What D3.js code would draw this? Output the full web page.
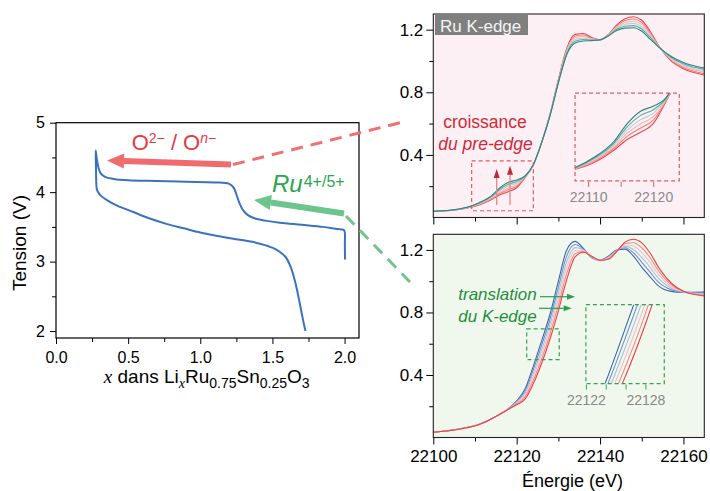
<!DOCTYPE html>
<html>
<head>
<meta charset="utf-8">
<script src="https://cdn.jsdelivr.net/npm/d3@7"></script>
<style>
  body { margin: 0; background: #fff; }
  svg { display: block; }
</style>
</head>
<body>
<div id="content"></div>
<script>
// ---------- galvanostatic curve (x in LixRu0.75Sn0.25O3, tension in V)
const chargeX    = [2.003, 2.002, 2.0, 1.99, 1.95, 1.85, 1.7, 1.55, 1.45, 1.38, 1.33, 1.3, 1.27, 1.25, 1.23, 1.2, 1.1, 0.9, 0.7, 0.5, 0.4, 0.34, 0.31, 0.295, 0.285, 0.278, 0.275];
const chargeV    = [3.03, 3.25, 3.44, 3.46, 3.47, 3.5, 3.53, 3.56, 3.59, 3.62, 3.67, 3.73, 3.85, 3.97, 4.07, 4.12, 4.14, 4.15, 4.16, 4.17, 4.19, 4.22, 4.27, 4.35, 4.45, 4.55, 4.6];
const dischargeX = [0.275, 0.277, 0.279, 0.283, 0.295, 0.31, 0.35, 0.42, 0.54, 0.65, 0.77, 0.885, 1.0, 1.12, 1.23, 1.35, 1.46, 1.53, 1.59, 1.625, 1.66, 1.694, 1.717, 1.729];
const dischargeV = [4.6, 4.37, 4.15, 4.04, 3.99, 3.95, 3.89, 3.81, 3.71, 3.62, 3.54, 3.48, 3.42, 3.37, 3.33, 3.29, 3.23, 3.17, 3.07, 2.93, 2.69, 2.35, 2.11, 2.0];

const liTicks      = [0, 0.5, 1.0, 1.5, 2.0];
const liMinorTicks = [0.25, 0.75, 1.25, 1.75];
const vTicks       = [2, 3, 4, 5];
const vMinorTicks  = [2.5, 3.5, 4.5];

// ---------- Ru K-edge XANES (shared energy grid, eV)
const energy = [22100, 22104, 22108, 22111, 22114, 22116, 22118, 22120, 22122, 22124, 22126, 22128, 22130, 22132, 22134, 22136, 22138, 22140, 22142, 22144, 22146, 22148, 22150, 22152, 22154, 22157, 22160, 22165];

// top panel: pre-edge growth (red -> teal)
const topS0 = [0.040, 0.045, 0.060, 0.080, 0.115, 0.145, 0.165, 0.190, 0.255, 0.335, 0.480, 0.660, 0.880, 1.080, 1.170, 1.175, 1.150, 1.135, 1.170, 1.230, 1.270, 1.282, 1.260, 1.190, 1.100, 1.000, 0.950, 0.910];
const topS1 = [0.040, 0.045, 0.061, 0.083, 0.120, 0.154, 0.177, 0.200, 0.257, 0.336, 0.480, 0.658, 0.876, 1.072, 1.159, 1.166, 1.146, 1.135, 1.168, 1.223, 1.258, 1.268, 1.246, 1.180, 1.098, 1.006, 0.958, 0.919];
const topS2 = [0.040, 0.045, 0.062, 0.086, 0.125, 0.163, 0.189, 0.210, 0.259, 0.337, 0.480, 0.656, 0.872, 1.064, 1.148, 1.156, 1.142, 1.135, 1.166, 1.216, 1.246, 1.254, 1.232, 1.170, 1.096, 1.012, 0.966, 0.928];
const topS3 = [0.040, 0.046, 0.063, 0.089, 0.130, 0.172, 0.201, 0.220, 0.261, 0.337, 0.480, 0.654, 0.868, 1.056, 1.137, 1.147, 1.138, 1.135, 1.164, 1.209, 1.234, 1.240, 1.218, 1.160, 1.094, 1.018, 0.974, 0.937];
const topS4 = [0.040, 0.046, 0.064, 0.092, 0.135, 0.181, 0.213, 0.230, 0.263, 0.338, 0.480, 0.652, 0.864, 1.048, 1.126, 1.137, 1.134, 1.135, 1.162, 1.202, 1.222, 1.226, 1.204, 1.150, 1.092, 1.024, 0.982, 0.946];
const topS5 = [0.040, 0.046, 0.065, 0.095, 0.140, 0.190, 0.225, 0.240, 0.265, 0.339, 0.480, 0.650, 0.860, 1.040, 1.115, 1.128, 1.130, 1.135, 1.160, 1.195, 1.210, 1.212, 1.190, 1.140, 1.090, 1.030, 0.990, 0.955];
const topColors = ["#ef4349", "#f17c80", "#f3b3b6", "#b7d2cd", "#5fa8a0", "#2a8680"];

// bottom panel: K-edge shift (blue -> red)
const botS0 = [0.034, 0.045, 0.064, 0.085, 0.120, 0.148, 0.185, 0.235, 0.310, 0.457, 0.620, 0.790, 1.000, 1.200, 1.255, 1.210, 1.150, 1.134, 1.160, 1.200, 1.205, 1.160, 1.090, 1.028, 0.970, 0.935, 0.929, 0.930];
const botS1 = [0.034, 0.045, 0.064, 0.085, 0.120, 0.148, 0.184, 0.230, 0.297, 0.435, 0.591, 0.758, 0.962, 1.162, 1.235, 1.205, 1.152, 1.134, 1.156, 1.198, 1.214, 1.182, 1.121, 1.058, 0.994, 0.946, 0.930, 0.925];
const botS2 = [0.034, 0.045, 0.063, 0.084, 0.120, 0.149, 0.183, 0.225, 0.284, 0.412, 0.562, 0.726, 0.924, 1.124, 1.215, 1.200, 1.154, 1.134, 1.152, 1.196, 1.223, 1.203, 1.152, 1.089, 1.018, 0.957, 0.931, 0.920];
const botS3 = [0.034, 0.045, 0.063, 0.084, 0.120, 0.149, 0.182, 0.220, 0.271, 0.390, 0.533, 0.694, 0.886, 1.086, 1.195, 1.195, 1.156, 1.134, 1.148, 1.194, 1.232, 1.225, 1.183, 1.119, 1.042, 0.968, 0.933, 0.915];
const botS4 = [0.034, 0.045, 0.062, 0.083, 0.120, 0.150, 0.181, 0.215, 0.258, 0.367, 0.504, 0.662, 0.848, 1.048, 1.175, 1.190, 1.158, 1.134, 1.144, 1.192, 1.241, 1.246, 1.214, 1.150, 1.066, 0.979, 0.934, 0.910];
const botS5 = [0.034, 0.045, 0.062, 0.083, 0.120, 0.150, 0.180, 0.210, 0.245, 0.345, 0.475, 0.630, 0.810, 1.010, 1.155, 1.185, 1.160, 1.134, 1.140, 1.190, 1.250, 1.268, 1.245, 1.180, 1.090, 0.990, 0.935, 0.905];
const botColors = ["#3a66ad", "#6f92c7", "#aabfe0", "#f3c0c3", "#f28a8e", "#ee3f45"];

const eTicks         = [22100, 22120, 22140, 22160];
const eMinorTicks    = [22110, 22130, 22150];
const muTicks        = [0.4, 0.8, 1.2];
const muMinorTicks   = [0.2, 0.6, 1.0];
const topInsetTicks  = [22110, 22115, 22120];
const topInsetLabels = [22110, 22120];
const botInsetTicks  = [22122, 22124, 22126, 22128];
const botInsetLabels = [22122, 22128];

const FONT = "'Liberation Sans', Arial, Helvetica, sans-serif";
const W = 710, H = 491;

const svg = d3.select("#content").append("svg")
    .attr("width", W).attr("height", H)
    .attr("font-family", FONT);

svg.append("rect").attr("width", W).attr("height", H).attr("fill", "#fff");

const defs = svg.append("defs");

function styleAxis(g, size){
    g.select(".domain").remove();
    g.attr("font-family", FONT).attr("font-size", size);
    g.selectAll("text").attr("fill", "#000");
    g.selectAll("line").attr("stroke", "#000");
}

function arrow(g, x1, y1, x2, y2, color, shaftW, headL, headW){
    // shaft from (x1,y1) to head base, head pointing at (x2,y2)
    const a = Math.atan2(y2 - y1, x2 - x1);
    const bx = x2 - headL * Math.cos(a), by = y2 - headL * Math.sin(a);
    g.append("line").attr("x1", x1).attr("y1", y1).attr("x2", bx).attr("y2", by)
        .attr("stroke", color).attr("stroke-width", shaftW);
    const px = Math.sin(a) * headW / 2, py = -Math.cos(a) * headW / 2;
    g.append("path")
        .attr("d", `M${x2},${y2}L${bx + px},${by + py}L${bx - px},${by - py}Z`)
        .attr("fill", color);
}

//////////////////// left: tension vs x
const xLi = d3.scaleLinear().domain([0, 2.1]).range([56, 359]);
const yV  = d3.scaleLinear().domain([1.9, 5]).range([338, 122.7]);
const left = svg.append("g");

left.append("g").attr("transform", "translate(0,338)")
    .call(d3.axisBottom(xLi).tickValues(liMinorTicks).tickSize(4).tickFormat(""))
    .call(g => styleAxis(g, 16));
left.append("g").attr("transform", "translate(0,338)")
    .call(d3.axisBottom(xLi).tickValues(liTicks).tickSize(6).tickPadding(8).tickFormat(d3.format(".1f")))
    .call(g => styleAxis(g, 16));
left.append("g").attr("transform", "translate(56,0)")
    .call(d3.axisLeft(yV).tickValues(vMinorTicks).tickSize(4).tickFormat(""))
    .call(g => styleAxis(g, 16));
left.append("g").attr("transform", "translate(56,0)")
    .call(d3.axisLeft(yV).tickValues(vTicks).tickSize(6).tickPadding(5).tickFormat(d3.format("d")))
    .call(g => styleAxis(g, 16));

left.append("rect")
    .attr("x", xLi(0)).attr("y", yV(5))
    .attr("width", xLi(2.1) - xLi(0)).attr("height", yV(1.9) - yV(5))
    .attr("fill", "none").attr("stroke", "#000").attr("stroke-width", 1.2);

const cycle = chargeX.map((x, i) => [x, chargeV[i]])
    .concat(dischargeX.slice(1).map((x, i) => [x, dischargeV[i + 1]]));

left.append("path")
    .attr("d", d3.line().x(d => xLi(d[0])).y(d => yV(d[1])).curve(d3.curveCatmullRom.alpha(0.5))(cycle))
    .attr("fill", "none").attr("stroke", "#3b72c0").attr("stroke-width", 2);

left.append("text")
    .attr("transform", "translate(25.5,243) rotate(-90)")
    .attr("text-anchor", "middle").attr("font-size", 19).text("Tension (V)");

const xt = left.append("text").attr("x", 206.7).attr("y", 383)
    .attr("text-anchor", "middle").attr("font-size", 19);
xt.append("tspan").attr("font-family", "'Liberation Serif', serif").attr("font-style", "italic").text("x");
xt.append("tspan").text(" dans Li");
xt.append("tspan").attr("dy", 5).attr("font-size", 14).attr("font-family", "'Liberation Serif', serif").attr("font-style", "italic").text("x");
xt.append("tspan").attr("dy", -5).text("Ru");
xt.append("tspan").attr("dy", 5).attr("font-size", 14).text("0.75");
xt.append("tspan").attr("dy", -5).text("Sn");
xt.append("tspan").attr("dy", 5).attr("font-size", 14).text("0.25");
xt.append("tspan").attr("dy", -5).text("O");
xt.append("tspan").attr("dy", 5).attr("font-size", 14).text("3");

// redox annotations
const ann = svg.append("g");
ann.append("line").attr("x1", 233).attr("y1", 164.5).attr("x2", 407).attr("y2", 121)
    .attr("stroke", "#f07074").attr("stroke-width", 3).attr("stroke-dasharray", "12 8");
ann.append("line").attr("x1", 346).attr("y1", 216).attr("x2", 410).attr("y2", 282)
    .attr("stroke", "#72c48e").attr("stroke-width", 3).attr("stroke-dasharray", "12 8");
arrow(ann, 231, 164.5, 107, 160.5, "#f06b6e", 6, 17, 15);
arrow(ann, 344, 213.5, 254, 200, "#6cc58c", 6, 17, 15);

const ox = ann.append("text").attr("x", 131.7).attr("y", 150).attr("fill", "#e8383e").attr("font-size", 22);
ox.append("tspan").text("O");
ox.append("tspan").attr("dy", -7).attr("font-size", 14).text("2\u2212");
ox.append("tspan").attr("dy", 7).text(" / O");
ox.append("tspan").attr("dy", -7).attr("font-size", 14).attr("font-style", "italic").text("n");
ox.append("tspan").attr("font-size", 14).text("\u2212");

const ru = ann.append("text").attr("x", 272).attr("y", 191.7).attr("fill", "#2aa64d").attr("font-size", 24);
ru.append("tspan").attr("font-style", "italic").text("Ru");
ru.append("tspan").attr("dx", 1).attr("dy", -5).attr("font-size", 16).text("4+/5+");

//////////////////// right: XANES panels
const xE = d3.scaleLinear().domain([22100, 22165]).range([433.3, 704.3]);

function drawPanel(cfg){
    const y = d3.scaleLinear().domain([0, 1.3]).range([cfg.bottom, cfg.top]);
    const g = svg.append("g");
    const [x0, x1] = xE.range();

    g.append("rect").attr("x", x0).attr("y", cfg.top)
        .attr("width", x1 - x0).attr("height", cfg.bottom - cfg.top)
        .attr("fill", cfg.bg);

    const clipId = cfg.id + "-clip";
    defs.append("clipPath").attr("id", clipId).append("rect")
        .attr("x", x0).attr("y", cfg.top).attr("width", x1 - x0).attr("height", cfg.bottom - cfg.top);

    const line = d3.line().x((d, i) => xE(energy[i])).y(d => y(d)).curve(d3.curveMonotoneX);
    g.append("g").attr("clip-path", `url(#${clipId})`)
        .selectAll("path").data(cfg.spectra).enter().append("path")
        .attr("d", line)
        .attr("fill", "none")
        .attr("stroke", (d, i) => cfg.colors[i])
        .attr("stroke-width", 1.1);

    // axes
    g.append("g").attr("transform", `translate(${x0},0)`)
        .call(d3.axisLeft(y).tickValues(muMinorTicks).tickSize(4).tickFormat(""))
        .call(a => styleAxis(a, 17));
    g.append("g").attr("transform", `translate(${x0},0)`)
        .call(d3.axisLeft(y).tickValues(muTicks).tickSize(7).tickPadding(3).tickFormat(d3.format(".1f")))
        .call(a => styleAxis(a, 17));
    g.append("g").attr("transform", `translate(0,${cfg.bottom})`)
        .call(d3.axisBottom(xE).tickValues(eMinorTicks).tickSize(4).tickFormat(""))
        .call(a => styleAxis(a, 17));
    g.append("g").attr("transform", `translate(0,${cfg.bottom})`)
        .call(d3.axisBottom(xE).tickValues(eTicks).tickSize(7).tickPadding(5)
            .tickFormat(cfg.xLabels ? d3.format("d") : ""))
        .call(a => styleAxis(a, 17));

    g.append("rect").attr("x", x0).attr("y", cfg.top)
        .attr("width", x1 - x0).attr("height", cfg.bottom - cfg.top)
        .attr("fill", "none").attr("stroke", "#222").attr("stroke-width", 1.1);

    // small dashed zoom box on the curves
    const z = cfg.zoomBox;
    g.append("rect")
        .attr("x", xE(z.e[0])).attr("y", y(z.v[1]))
        .attr("width", xE(z.e[1]) - xE(z.e[0])).attr("height", y(z.v[0]) - y(z.v[1]))
        .attr("fill", "none").attr("stroke", cfg.dash).attr("stroke-width", 1.2)
        .attr("stroke-dasharray", "4 3");

    // inset
    const ib = cfg.inset;
    const ix0 = xE(ib.box.e[0]), ix1 = xE(ib.box.e[1]);
    const iy0 = y(ib.box.v[1]), iy1 = y(ib.box.v[0]);
    const xi = d3.scaleLinear().domain(ib.eDomain).range([ix0, ix1]);
    const yi = d3.scaleLinear().domain(ib.vDomain).range([iy1, iy0]);
    const insetClip = cfg.id + "-inset";
    defs.append("clipPath").attr("id", insetClip).append("rect")
        .attr("x", ix0).attr("y", iy0).attr("width", ix1 - ix0).attr("height", iy1 - iy0);
    const iline = d3.line().x((d, i) => xi(energy[i])).y(d => yi(d)).curve(d3.curveMonotoneX);
    g.append("g").attr("clip-path", `url(#${insetClip})`)
        .selectAll("path").data(cfg.spectra).enter().append("path")
        .attr("d", iline)
        .attr("fill", "none")
        .attr("stroke", (d, i) => cfg.colors[i])
        .attr("stroke-width", 1.1);
    g.append("rect").attr("x", ix0).attr("y", iy0)
        .attr("width", ix1 - ix0).attr("height", iy1 - iy0)
        .attr("fill", "none").attr("stroke", cfg.dash).attr("stroke-width", 1.2)
        .attr("stroke-dasharray", "4 3");
    const it = g.append("g").attr("transform", `translate(0,${iy1 + 1})`)
        .call(d3.axisBottom(xi).tickValues(ib.ticks).tickSize(5).tickPadding(5)
            .tickFormat(d => ib.labels.includes(d) ? d3.format("d")(d) : ""));
    it.select(".domain").remove();
    it.attr("font-family", FONT).attr("font-size", 14);
    it.selectAll("line").attr("stroke", cfg.dash);
    it.selectAll("text").attr("fill", "#8a8a8a");

    return { g, y };
}

// top panel
const topPanel = drawPanel({
    id: "top", top: 14, bottom: 217.5, bg: "#fcf0f4", xLabels: false,
    spectra: [topS0, topS1, topS2, topS3, topS4, topS5], colors: topColors,
    dash: "#de5a66",
    zoomBox: { e: [22109.2, 22124], v: [0.043, 0.362] },
    inset: { box: { e: [22134, 22159], v: [0.234, 0.794] },
             eDomain: [22108, 22124], vDomain: [0.027, 0.277],
             ticks: topInsetTicks, labels: topInsetLabels }
});

topPanel.g.append("rect").attr("x", 435).attr("y", 15).attr("width", 93).attr("height", 20).attr("fill", "#7f7f7f");
topPanel.g.append("text").attr("x", 440).attr("y", 31.5).attr("fill", "#f4f4f4").attr("font-size", 17).text("Ru K-edge");

topPanel.g.append("text").attr("x", 485).attr("y", 128.3).attr("text-anchor", "middle")
    .attr("fill", "#cc2a3a").attr("font-size", 17.5).text("croissance");
topPanel.g.append("text").attr("x", 485.5).attr("y", 150).attr("text-anchor", "middle")
    .attr("fill", "#cc2a3a").attr("font-size", 17.5).attr("font-style", "italic").text("du pre-edge");

[[22115.2, 0.31], [22118.4, 0.33]].forEach(([e, v]) => {
    const xa = xE(e);
    topPanel.g.append("line").attr("x1", xa).attr("x2", xa)
        .attr("y1", topPanel.y(0.08)).attr("y2", topPanel.y(v) + 8)
        .attr("stroke", "#e4868c").attr("stroke-width", 1.3);
    topPanel.g.append("path")
        .attr("d", `M${xa},${topPanel.y(v)}L${xa - 3},${topPanel.y(v) + 9}L${xa + 3},${topPanel.y(v) + 9}Z`)
        .attr("fill", "#c0283a");
});

// bottom panel
const botPanel = drawPanel({
    id: "bot", top: 234.3, bottom: 437.5, bg: "#f0f7ec", xLabels: true,
    spectra: [botS0, botS1, botS2, botS3, botS4, botS5], colors: botColors,
    dash: "#3a9f55",
    zoomBox: { e: [22122.4, 22130.2], v: [0.498, 0.695] },
    inset: { box: { e: [22136.6, 22155.4], v: [0.345, 0.85] },
             eDomain: [22122, 22129.9], vDomain: [0.452, 0.688],
             ticks: botInsetTicks, labels: botInsetLabels }
});

botPanel.g.append("text").attr("x", 497.5).attr("y", 300).attr("text-anchor", "middle")
    .attr("fill", "#1f8f3f").attr("font-size", 17).attr("font-style", "italic").text("translation");
botPanel.g.append("text").attr("x", 497.5).attr("y", 321.7).attr("text-anchor", "middle")
    .attr("fill", "#1f8f3f").attr("font-size", 17).attr("font-style", "italic").text("du K-edge");
arrow(botPanel.g, 540, 296.7, 575, 296.7, "#2e9e4e", 1.2, 8, 6);
arrow(botPanel.g, 539, 308.3, 571.7, 308.3, "#2e9e4e", 1.2, 8, 6);

svg.append("text").attr("x", 572.5).attr("y", 486.7).attr("text-anchor", "middle")
    .attr("font-size", 18).text("\u00c9nergie (eV)");
</script>
</body>
</html>
